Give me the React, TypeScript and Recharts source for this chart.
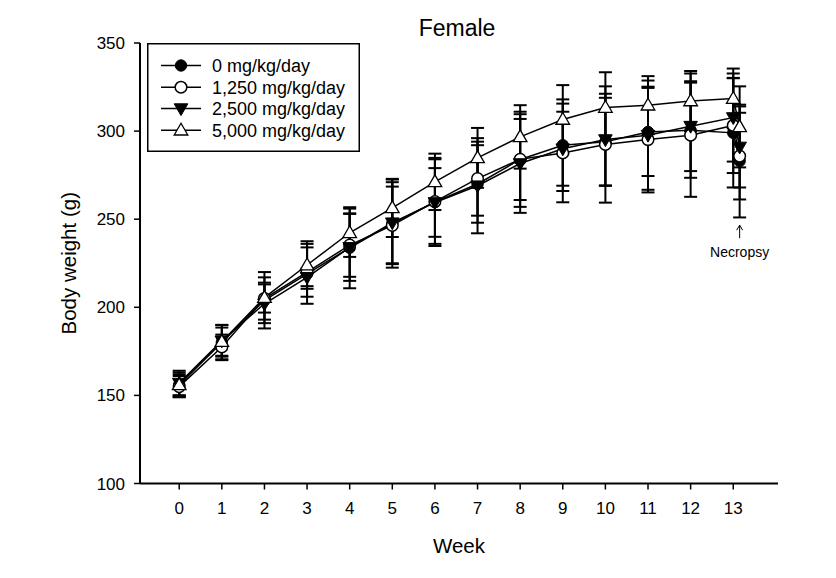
import React from 'react';
import { LineChart, Line, XAxis, YAxis, ErrorBar, Legend, ReferenceDot } from 'recharts';

// x positions: weeks 0..13 plus the necropsy point drawn just right of week 13
const weeks = [0, 1, 2, 3, 4, 5, 6, 7, 8, 9, 10, 11, 12, 13, 13.15];
const weekTicks = [0, 1, 2, 3, 4, 5, 6, 7, 8, 9, 10, 11, 12, 13];
const yTicks = [100, 150, 200, 250, 300, 350];

const mean0 = [156, 180, 204, 219, 233.8, 247.5, 259.8, 270, 283.9, 292, 293.9, 299.5, 300.5, 299, 283];
const mean1250 = [155, 177.5, 205, 220, 235.3, 246.5, 260, 273, 284, 287.6, 292.4, 295.2, 297.7, 303.2, 285.8];
const mean2500 = [157, 181, 202, 217, 234, 248, 259.5, 269, 281.6, 290, 295.2, 297.7, 302.8, 307.7, 291];
const mean5000 = [156, 180.5, 205.5, 224, 242.3, 256.4, 271.2, 284.8, 296.7, 306.6, 313.4, 314.7, 317.1, 318.5, 302.4];

const sd0 = [7, 10, 16, 17, 23, 25, 25, 22, 23, 26, 25, 25, 27, 31, 32];
const sd1250 = [6, 7, 12, 14, 18, 22, 24, 21, 27, 28, 33, 30, 35, 27, 24.6];
const sd2500 = [7, 9, 11, 5, 19, 23, 19.5, 27, 28, 21, 26, 31, 25.5, 25, 23];
const sd5000 = [6, 8, 8.5, 13.5, 13.7, 16.5, 16, 17, 18, 19.5, 20, 16.5, 17, 17, 23];

const seriesNames = ['0 mg/kg/day', '1,250 mg/kg/day', '2,500 mg/kg/day', '5,000 mg/kg/day'];
const markerTypes = ['filledCircle', 'openCircle', 'filledTriDown', 'openTriUp'];

const necropsyX = 13.15;
const necropsyArrowTop = 246.6;

const data = weeks.map((w, i) => ({
  week: w,
  m0: mean0[i], s0: sd0[i],
  m1: mean1250[i], s1: sd1250[i],
  m2: mean2500[i], s2: sd2500[i],
  m3: mean5000[i], s3: sd5000[i],
}));

const FONT = '"Liberation Sans", Arial, sans-serif';

function Marker({ type, cx, cy }: { type: string; cx: number; cy: number }) {
  if (cx == null || cy == null) return null;
  switch (type) {
    case 'filledCircle':
      return <circle cx={cx} cy={cy} r={5.7} fill="#000" stroke="#000" strokeWidth={1} />;
    case 'openCircle':
      return <circle cx={cx} cy={cy} r={5.8} fill="#fff" stroke="#000" strokeWidth={1.5} />;
    case 'filledTriDown':
      return (
        <polygon
          points={`${cx - 6.8},${cy - 4.8} ${cx + 6.8},${cy - 4.8} ${cx},${cy + 7}`}
          fill="#000" stroke="#000" strokeWidth={1} />
      );
    default:
      return (
        <polygon
          points={`${cx},${cy - 7} ${cx - 6.8},${cy + 4.8} ${cx + 6.8},${cy + 4.8}`}
          fill="#fff" stroke="#000" strokeWidth={1.3} />
      );
  }
}

function makeDot(type: string) {
  return (props: any) => <Marker key={`${type}-${props.index}`} type={type} cx={props.cx} cy={props.cy} />;
}

function LegendBox() {
  const rows = [22.5, 44.2, 65.6, 87.2];
  return (
    <svg width={213} height={109} style={{ display: 'block', overflow: 'visible' }}>
      <rect x={0.75} y={0.75} width={211.5} height={107.5} fill="#fff" stroke="#000" strokeWidth={1.5} />
      {seriesNames.map((n, i) => (
        <g key={n}>
          <line x1={14} x2={54} y1={rows[i]} y2={rows[i]} stroke="#000" strokeWidth={1.5} />
          <Marker type={markerTypes[i]} cx={34} cy={rows[i]} />
          <text x={65} y={rows[i] + 6.3} fontFamily={FONT} fontSize={18} fill="#000">{n}</text>
        </g>
      ))}
    </svg>
  );
}

function NecropsyMark(props: any) {
  const { cx, cy } = props;
  if (cx == null || cy == null) return null;
  return (
    <g>
      <line x1={cx} x2={cx} y1={cy} y2={cy + 13} stroke="#000" strokeWidth={1} />
      <polyline points={`${cx - 3},${cy + 5} ${cx},${cy} ${cx + 3},${cy + 5}`} fill="none" stroke="#000" strokeWidth={1} />
      <text x={cx} y={cy + 32} textAnchor="middle" fontFamily={FONT} fontSize={14} fill="#000">Necropsy</text>
    </g>
  );
}

export default function App() {
  const keys = ['0', '1', '2', '3'];
  return (
    <div style={{ position: 'relative', width: 836, height: 578, background: '#fff' }}>
      <style>{`body{margin:0;background:#fff}`}</style>
      <LineChart
        width={836}
        height={578}
        data={data}
        margin={{ top: 43, right: 58, bottom: 0, left: 0 }}
      >
        <XAxis
          dataKey="week"
          type="number"
          domain={[-0.92, 14.05]}
          ticks={weekTicks}
          allowDataOverflow
          height={94.5}
          stroke="#000"
          strokeWidth={2}
          tickSize={6}
          tickMargin={12}
          tick={{ fill: '#000', fontFamily: FONT, fontSize: 17 }}
          tickLine={{ stroke: '#000', strokeWidth: 1.5 }}
          label={{
            content: (p: any) => {
              const vb = p.viewBox || {};
              return (
                <text x={vb.x + vb.width / 2} y={vb.y + 69} textAnchor="middle" fontFamily={FONT} fontSize={20.5} fill="#000">Week</text>
              );
            },
          }}
        />
        <YAxis
          type="number"
          domain={[100, 350]}
          ticks={yTicks}
          width={140}
          stroke="#000"
          strokeWidth={2}
          tickSize={6}
          tickMargin={9}
          tick={{ fill: '#000', fontFamily: FONT, fontSize: 17 }}
          tickLine={{ stroke: '#000', strokeWidth: 1.5 }}
          label={{
            content: (p: any) => {
              const vb = p.viewBox || {};
              const cy = vb.y + vb.height / 2;
              return (
                <text x={76} y={cy} transform={`rotate(-90, 76, ${cy})`} textAnchor="middle" fontFamily={FONT} fontSize={20.5} fill="#000">Body weight (g)</text>
              );
            },
          }}
        />
        <Legend
          layout="vertical"
          align="center"
          verticalAlign="middle"
          wrapperStyle={{ left: 147, top: 43, width: 213, height: 109 }}
          content={() => <LegendBox />}
        />
        {keys.map((k, i) => (
          <Line
            key={k}
            type="linear"
            dataKey={`m${k}`}
            name={seriesNames[i]}
            stroke="#000"
            strokeWidth={1.5}
            isAnimationActive={false}
            dot={makeDot(markerTypes[i])}
            activeDot={false}
          >
            <ErrorBar dataKey={`s${k}`} width={6.5} stroke="#000" strokeWidth={2} direction="y" isAnimationActive={false} />
          </Line>
        ))}
        <ReferenceDot x={necropsyX} y={necropsyArrowTop} r={0} shape={NecropsyMark} />
      </LineChart>
      <svg width={836} height={60} style={{ position: 'absolute', left: 0, top: 0, pointerEvents: 'none' }}>
        <text x={457} y={36} textAnchor="middle" fontFamily={FONT} fontSize={23} fill="#000">Female</text>
      </svg>
    </div>
  );
}
